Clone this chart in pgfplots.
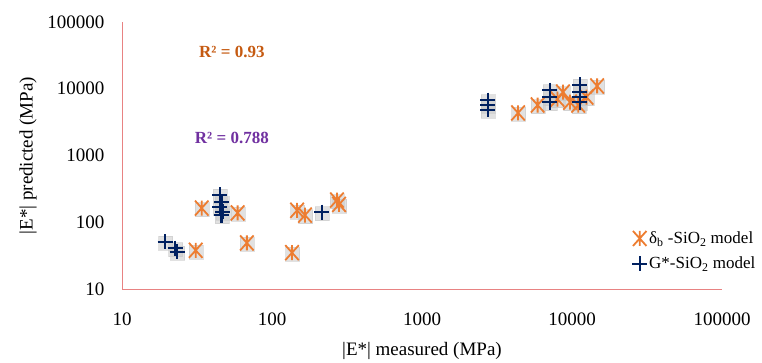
\documentclass[border=0pt]{standalone}
\usepackage{pgfplots}
\pgfplotsset{compat=1.18}
\usepackage{fontspec}
\setmainfont{Liberation Serif}
\definecolor{orgm}{RGB}{237,125,49}
\definecolor{navm}{RGB}{0,32,96}
\definecolor{axred}{RGB}{232,130,130}
\definecolor{rorg}{RGB}{197,90,17}
\definecolor{rpur}{RGB}{112,48,160}
\definecolor{shad}{RGB}{200,200,200}
\pgfdeclareplotmark{xstar}{%
  \pgfpathmoveto{\pgfqpoint{0pt}{\pgfplotmarksize}}%
  \pgfpathlineto{\pgfqpoint{0pt}{-\pgfplotmarksize}}%
  \pgfpathmoveto{\pgfqpoint{-0.9\pgfplotmarksize}{-\pgfplotmarksize}}%
  \pgfpathlineto{\pgfqpoint{0.9\pgfplotmarksize}{\pgfplotmarksize}}%
  \pgfpathmoveto{\pgfqpoint{-0.9\pgfplotmarksize}{\pgfplotmarksize}}%
  \pgfpathlineto{\pgfqpoint{0.9\pgfplotmarksize}{-\pgfplotmarksize}}%
  \pgfusepathqstroke}
\pgfplotstableread{
x y
34 163
59 138
68 49
31 38
136 35
147 151
166 128
271 215
280 185
4370 4340
5900 5700
8000 7000
8700 8900
9700 6300
11000 5700
12500 7500
14700 11000
}\orgdata
\pgfplotstableread{
x y
19.4 51
22.6 41
23.3 36
45 256
46 201
45 169
47 143
46 128
215 142
2750 6760
2750 5710
2750 4810
7130 9550
7130 7520
7130 6320
11300 11400
11300 8930
11300 7520
11300 6320
}\navdata
\begin{document}
\begin{tikzpicture}
\begin{axis}[name=ax,
  scale only axis, width=600pt, height=267pt,
  xmode=log, ymode=log,
  xmin=10, xmax=100000, ymin=10, ymax=100000,
  axis x line*=bottom, axis y line*=left,
  axis line style={axred, line width=0.8pt, -},
  major tick length=0pt, minor tick length=0pt,
  minor tick style={draw=none}, major tick style={draw=none},
  xtick={10,100,1000,10000,100000},
  ytick={10,100,1000,10000,100000},
  log ticks with fixed point,
  /pgf/number format/1000 sep={},
  /pgf/number format/assume math mode=true,
  tick label style={font=\fontsize{19}{22}\selectfont},
  xticklabel style={yshift=-20pt},
  yticklabel style={xshift=-14pt},
  xlabel={|E*| measured (MPa)},
  ylabel={|E*| predicted (MPa)},
  label style={font=\fontsize{19}{22}\selectfont},
  xlabel style={yshift=-10pt},
  ylabel style={yshift=4pt},
  clip=false,
  legend style={draw=none, fill=none, at={(rel axis cs:0.845,0.23)}, anchor=north west,
    font=\fontsize{17}{20}\selectfont, row sep=8pt},
  legend cell align=left,
]
\addplot[only marks, mark=square*, mark size=7pt, opacity=0.55, mark options={draw=shad, fill=shad, yshift=-1.5pt, xshift=0.5pt}, forget plot] table[x=x,y=y] {\orgdata};
\addplot[only marks, mark=square*, mark size=7pt, opacity=0.55, mark options={draw=shad, fill=shad, yshift=-1.5pt, xshift=0.5pt}, forget plot] table[x=x,y=y] {\navdata};
\addplot[only marks, mark=xstar, mark size=7.5pt, mark options={draw=orgm, line width=1.8pt}] table[x=x,y=y] {\orgdata};
\addlegendentry{δ\textsubscript{b} -SiO\textsubscript{2} model}
\addplot[only marks, mark=+, mark size=7.5pt, mark options={draw=navm, line width=2.2pt}] table[x=x,y=y] {\navdata};
\addlegendentry{G*-SiO\textsubscript{2} model}
\node[font=\bfseries\fontsize{17}{20}\selectfont, text=rorg] at (axis cs:54,35500) {R² = 0.93};
\node[font=\bfseries\fontsize{17}{20}\selectfont, text=rpur] at (axis cs:54,1830) {R² = 0.788};
\end{axis}
\path[use as bounding box] ([shift={(-122pt,-70pt)}]ax.south west) rectangle ([shift={(40pt,22pt)}]ax.north east);
\end{tikzpicture}
\end{document}
